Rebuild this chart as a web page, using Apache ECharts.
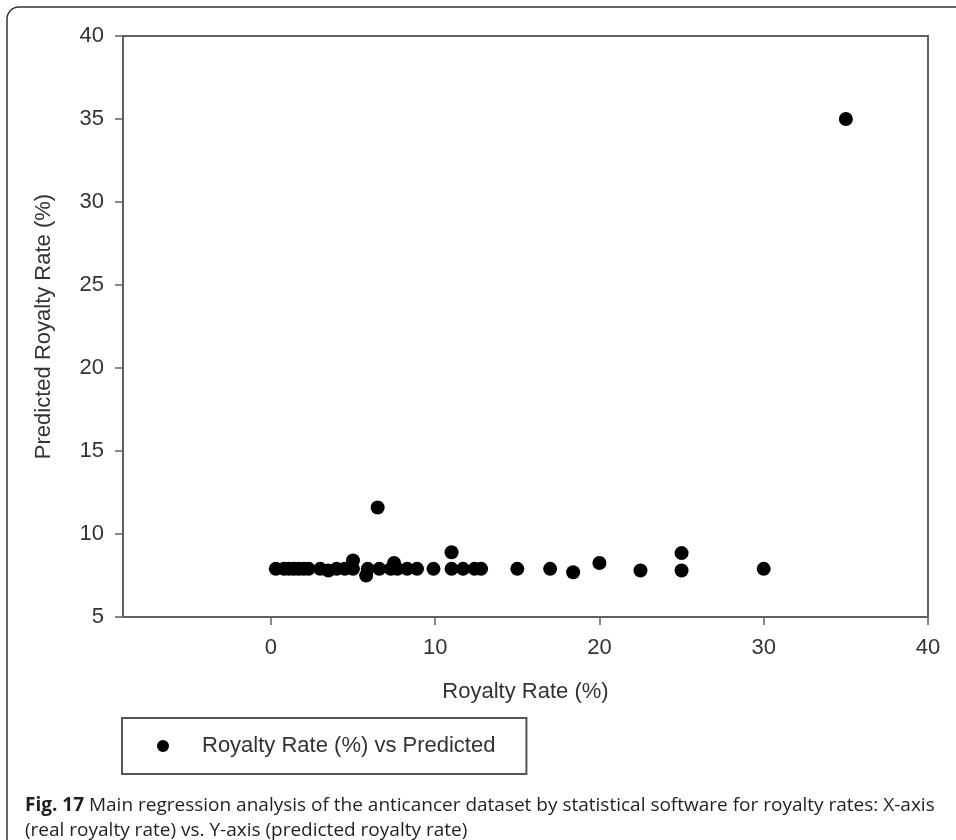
<!DOCTYPE html>
<html>
<head>
<meta charset="utf-8">
<script src="https://cdn.jsdelivr.net/npm/echarts@6/dist/echarts.min.js"></script>
<style>
html,body{margin:0;padding:0;background:#fff;}
#chart{width:956px;height:840px;}
</style>
</head>
<body>
<div id="chart"></div>
<script>
// Real royalty rate (%) - x values
const realRate = [0.3, 0.8, 1.1, 1.4, 1.7, 2.0, 2.3, 3.0, 3.5, 4.0, 4.5, 5.0, 5.0, 5.8, 5.9, 6.5, 6.6, 7.3, 7.5, 7.7, 8.3, 8.9, 9.9, 11.0, 11.0, 11.7, 12.4, 12.8, 15.0, 17.0, 18.4, 20.0, 22.5, 25.0, 25.0, 30.0, 35.0];
// Predicted royalty rate (%) - y values
const predictedRate = [7.9, 7.9, 7.9, 7.9, 7.9, 7.9, 7.9, 7.9, 7.8, 7.9, 7.9, 8.4, 7.9, 7.5, 7.9, 11.6, 7.9, 7.9, 8.25, 7.9, 7.9, 7.9, 7.9, 8.9, 7.9, 7.9, 7.9, 7.9, 7.9, 7.9, 7.7, 8.25, 7.8, 8.85, 7.8, 7.9, 35.0];
const xTicks = [0, 10, 20, 30, 40];
const yTicks = [5, 10, 15, 20, 25, 30, 35, 40];
const seriesName = 'Royalty Rate (%) vs Predicted';
const xName = 'Royalty Rate (%)';
const yName = 'Predicted Royalty Rate (%)';
const captionBold = 'Fig. 17';
const captionLine1 = ' Main regression analysis of the anticancer dataset by statistical software for royalty rates: X-axis';
const captionLine2 = '(real royalty rate) vs. Y-axis (predicted royalty rate)';

const points = realRate.map((x, i) => [x, predictedRate[i]]);

const chart = echarts.init(document.getElementById('chart'), null, {renderer: 'canvas'});
const axisColor = '#606060';
const textColor = '#333';
const axisFont = 'Liberation Sans, Arial, sans-serif';
const axisFontSize = 22;

chart.setOption({
  animation: false,
  backgroundColor: '#fff',
  grid: {
    left: 123, right: 28, top: 36, bottom: 223,
    show: true, borderColor: axisColor, borderWidth: 2, backgroundColor: 'transparent'
  },
  xAxis: {
    type: 'value', min: -9, max: 40,
    name: xName, nameLocation: 'middle', nameGap: 64,
    nameTextStyle: {color: textColor, fontSize: axisFontSize, fontFamily: axisFont},
    axisLine: {show: true, onZero: false, lineStyle: {color: axisColor, width: 2}},
    axisTick: {show: true, customValues: xTicks, length: 8, lineStyle: {color: axisColor, width: 1.5}},
    axisLabel: {customValues: xTicks, margin: 20, color: textColor, fontSize: axisFontSize, fontFamily: axisFont},
    splitLine: {show: false}
  },
  yAxis: {
    type: 'value', min: 5, max: 40, interval: 5,
    name: yName, nameLocation: 'middle', nameGap: 68,
    nameTextStyle: {color: textColor, fontSize: axisFontSize, fontFamily: axisFont},
    axisLine: {show: true, onZero: false, lineStyle: {color: axisColor, width: 2}},
    axisTick: {show: true, length: 8, lineStyle: {color: axisColor, width: 1.5}},
    axisLabel: {customValues: yTicks, margin: 19, color: textColor, fontSize: axisFontSize, fontFamily: axisFont},
    splitLine: {show: false}
  },
  legend: {
    left: 122, top: 718,
    orient: 'horizontal',
    data: [{name: seriesName, icon: 'circle'}],
    itemWidth: 12, itemHeight: 12,
    padding: [17, 31, 17, 35],
    borderColor: '#555', borderWidth: 2,
    textStyle: {color: textColor, fontSize: axisFontSize, fontFamily: axisFont, padding: [0, 0, 0, 28]}
  },
  title: {
    left: 20, top: 788,
    text: '{b|' + captionBold + '}{n|' + captionLine1 + '}\n{n|' + captionLine2 + '}',
    textStyle: {
      rich: {
        b: {fontWeight: 'bold', fontSize: 19, fontFamily: 'Open Sans', color: '#231f20', lineHeight: 25},
        n: {fontWeight: 'normal', fontSize: 19, fontFamily: 'Open Sans', color: '#231f20', lineHeight: 25}
      }
    }
  },
  graphic: [{
    type: 'rect', silent: true,
    shape: {x: 7, y: 7, width: 1000, height: 1000, r: 12},
    style: {fill: 'none', stroke: '#333', lineWidth: 1.5}
  }],
  series: [{
    name: seriesName,
    type: 'scatter',
    data: points,
    symbol: 'circle',
    symbolSize: 14,
    itemStyle: {color: '#000', opacity: 1}
  }]
});
</script>
</body>
</html>
